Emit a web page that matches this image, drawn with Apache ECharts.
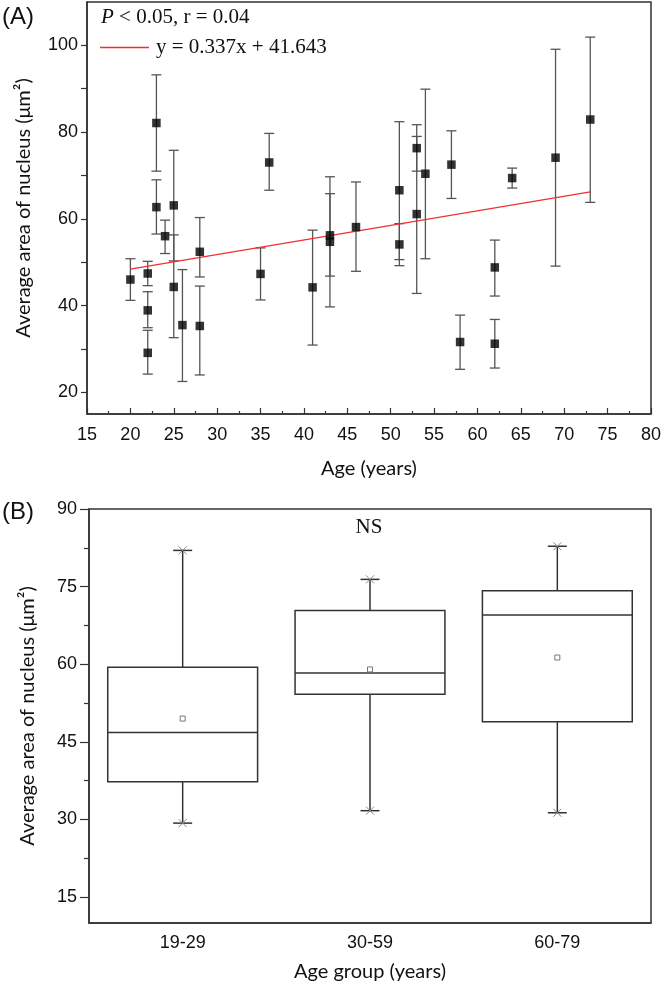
<!DOCTYPE html>
<html>
<head>
<meta charset="utf-8">
<script src="https://cdn.jsdelivr.net/npm/echarts@6/dist/echarts.min.js"></script>
<style>
html,body{margin:0;padding:0;background:#fff;}
#chart{width:664px;height:991px;}
</style>
</head>
<body>
<div id="chart"></div>
<script>
// ---- Panel A data (age vs. mean nuclear area, with error bars) ----
var ages   = [20,22,22,22,23,23,24,25,25,26,28,28,35,36,41,43,43,46,51,51,53,53,54,57,58,62,62,64,69,73];
var means  = [46.0,47.4,38.9,29.1,82.1,62.7,56.0,63.1,44.3,35.5,52.4,35.3,47.3,73.0,44.2,56.2,54.7,58.1,66.6,54.1,76.3,61.1,70.4,72.5,31.6,48.8,31.2,69.4,74.1,82.9];
var lowers = [41.2,44.6,34.9,24.2,71.0,56.5,52.0,50.3,32.6,22.5,46.6,24.0,41.3,66.6,30.9,46.8,39.7,47.9,50.6,49.2,71.0,42.8,50.8,64.7,25.3,42.2,25.6,67.1,49.1,63.8];
var uppers = [50.8,50.2,43.2,34.3,93.2,69.0,59.7,75.8,56.3,48.3,60.3,44.5,53.3,79.7,57.4,65.8,69.7,68.5,82.4,58.9,81.7,79.0,89.9,80.3,37.8,55.1,36.8,71.7,99.1,101.9];
var fitX   = [20, 73];
var fitY   = [48.4, 66.2];
var fitLabel = 'y = 0.337x + 41.643';
var yLabelsA = [20,40,60,80,100];
var yTicksA = [20,30,40,50,60,70,80,90,100];

// ---- Panel B data (box plots by age group) ----
var groups   = ['19-29','30-59','60-79'];
var boxMin   = [29.3,31.7,31.3];
var boxQ1    = [37.3,54.2,48.9];
var boxMed   = [46.8,58.3,69.5];
var boxQ3    = [59.4,70.4,74.2];
var boxMax   = [82.0,76.4,82.8];
var boxMean  = [49.5,59.0,61.3];
var yLabelsB = [15,30,45,60,75,90];
var yMinorB  = [22.5,37.5,52.5,67.5,82.5];

var chart = echarts.init(document.getElementById('chart'), null, {renderer:'canvas'});

var scatterData = ages.map(function(a,i){return [a, means[i]];});
var errData = ages.map(function(a,i){return [a, lowers[i], uppers[i]];});
var fitData = fitX.map(function(x,i){return [x, fitY[i]];});
var boxData = groups.map(function(g,i){return [i, boxMin[i], boxQ1[i], boxMed[i], boxQ3[i], boxMax[i], boxMean[i]];});

var tickFont = {fontFamily:'Liberation Sans', fontSize:18, color:'#111'};
var nameFont = {fontFamily:'Lato', fontSize:20, color:'#111'};
var lineCol = '#333';

var option = {
  animation:false,
  backgroundColor:'#fff',
  grid:[
    {left:87, right:11, top:2, bottom:577, show:true, borderColor:lineCol, borderWidth:1.5},
    {left:89, right:13, top:509, bottom:68, show:true, borderColor:lineCol, borderWidth:1.5}
  ],
  legend:{
    data:[{name:fitLabel, icon:'rect'}], left:100, top:37, padding:0, itemWidth:49, itemHeight:1.5,
    itemStyle:{color:'#f03030'},
    textStyle:{fontFamily:'Liberation Serif', fontSize:21, color:'#111', padding:[0,0,0,2]}
  },
  xAxis:[
    {type:'value', gridIndex:0, min:15, max:80, interval:5,
     axisLine:{lineStyle:{color:lineCol, width:1.5}},
     axisTick:{inside:true, length:6, lineStyle:{color:lineCol, width:1.2}},
     minorTick:{show:true, splitNumber:2, length:3, lineStyle:{color:lineCol, width:1.2}},
     splitLine:{show:false},
     axisLabel:Object.assign({margin:12}, tickFont),
     name:'Age (years)', nameLocation:'middle', nameGap:45, nameTextStyle:nameFont},
    {type:'category', gridIndex:1, data:groups,
     axisLine:{lineStyle:{color:lineCol, width:1.5}},
     axisTick:{show:false}, splitLine:{show:false},
     axisLabel:Object.assign({margin:11}, tickFont),
     name:'Age group (years)', nameLocation:'middle', nameGap:39, nameTextStyle:nameFont}
  ],
  yAxis:[
    {type:'value', gridIndex:0, min:15, max:110,
     axisLine:{show:true, lineStyle:{color:lineCol, width:1.5}},
     axisTick:{show:true, length:6, customValues:yTicksA, lineStyle:{color:lineCol, width:1.2}},
     splitLine:{show:false},
     axisLabel:Object.assign({margin:9, customValues:yLabelsA}, tickFont),
     name:'Average area of nucleus (μm²)', nameLocation:'middle', nameGap:53, nameTextStyle:nameFont},
    {type:'value', gridIndex:1, min:10, max:90,
     axisLine:{show:true, lineStyle:{color:lineCol, width:1.5}},
     axisTick:{show:true, length:9, customValues:yLabelsB, lineStyle:{color:lineCol, width:1.2}},
     splitLine:{show:false},
     axisLabel:Object.assign({margin:12, customValues:yLabelsB}, tickFont),
     name:'Average area of nucleus (μm²)', nameLocation:'middle', nameGap:51, nameTextStyle:nameFont},
    {type:'value', gridIndex:1, min:10, max:90, position:'left',
     axisLine:{show:false},
     axisTick:{show:true, length:5, customValues:yMinorB, lineStyle:{color:lineCol, width:1.2}},
     splitLine:{show:false},
     axisLabel:{show:false}}
  ],
  graphic:[
    {type:'text', left:2, top:5, style:{text:'(A)', fontFamily:'Liberation Sans', fontSize:24, fill:'#111'}},
    {type:'text', left:2, top:500, style:{text:'(B)', fontFamily:'Liberation Sans', fontSize:24, fill:'#111'}},
    {type:'text', left:101, top:7, style:{
      text:'{i|P} < 0.05, r = 0.04',
      fontFamily:'Liberation Serif', fontSize:21, fill:'#111',
      rich:{i:{fontFamily:'Liberation Serif', fontStyle:'italic', fontSize:21, fill:'#111'}}
    }},
    {type:'text', x:369, y:527, style:{text:'NS', fontFamily:'Liberation Serif', fontSize:21, fill:'#111', align:'center', verticalAlign:'middle'}}
  ],
  series:[
    {type:'custom', name:'err', xAxisIndex:0, yAxisIndex:0, data:errData, z:2,
     renderItem:function(params, api){
       var lo = api.coord([api.value(0), api.value(1)]);
       var hi = api.coord([api.value(0), api.value(2)]);
       var hw = 5;
       var st = {stroke:'#555', lineWidth:1.3};
       return {type:'group', children:[
         {type:'line', shape:{x1:lo[0], y1:lo[1], x2:hi[0], y2:hi[1]}, style:st},
         {type:'line', shape:{x1:lo[0]-hw, y1:lo[1], x2:lo[0]+hw, y2:lo[1]}, style:st},
         {type:'line', shape:{x1:hi[0]-hw, y1:hi[1], x2:hi[0]+hw, y2:hi[1]}, style:st}
       ]};
     }},
    {type:'scatter', name:'mean', xAxisIndex:0, yAxisIndex:0, data:scatterData,
     symbol:'rect', symbolSize:8.5, itemStyle:{color:'#000'}, z:4},
    {type:'line', name:fitLabel, xAxisIndex:0, yAxisIndex:0, data:fitData,
     symbol:'none', lineStyle:{color:'#f03030', width:1.2}, itemStyle:{color:'#f03030'}, z:3},
    {type:'custom', name:'box', xAxisIndex:1, yAxisIndex:1, data:boxData, z:2,
     renderItem:function(params, api){
       var i = api.value(0);
       var pMin = api.coord([i, api.value(1)]);
       var pQ1  = api.coord([i, api.value(2)]);
       var pMed = api.coord([i, api.value(3)]);
       var pQ3  = api.coord([i, api.value(4)]);
       var pMax = api.coord([i, api.value(5)]);
       var pMean= api.coord([i, api.value(6)]);
       var cx = pMed[0];
       var bw = api.size([1,0])[0]*0.8;
       var hb = bw/2, hc = 9.5, hx = 4;
       var st = {stroke:lineCol, lineWidth:1.5, fill:null};
       var xs = {stroke:'#888', lineWidth:1};
       return {type:'group', children:[
         {type:'line', shape:{x1:cx, y1:pQ3[1], x2:cx, y2:pMax[1]}, style:st},
         {type:'line', shape:{x1:cx, y1:pQ1[1], x2:cx, y2:pMin[1]}, style:st},
         {type:'line', shape:{x1:cx-hc, y1:pMax[1], x2:cx+hc, y2:pMax[1]}, style:st},
         {type:'line', shape:{x1:cx-hc, y1:pMin[1], x2:cx+hc, y2:pMin[1]}, style:st},
         {type:'rect', shape:{x:cx-hb, y:pQ3[1], width:bw, height:pQ1[1]-pQ3[1]}, style:{stroke:lineCol, lineWidth:1.5, fill:'#fff'}},
         {type:'line', shape:{x1:cx-hb, y1:pMed[1], x2:cx+hb, y2:pMed[1]}, style:st},
         {type:'line', shape:{x1:cx-hx, y1:pMax[1]-hx, x2:cx+hx, y2:pMax[1]+hx}, style:xs},
         {type:'line', shape:{x1:cx-hx, y1:pMax[1]+hx, x2:cx+hx, y2:pMax[1]-hx}, style:xs},
         {type:'line', shape:{x1:cx-hx, y1:pMin[1]-hx, x2:cx+hx, y2:pMin[1]+hx}, style:xs},
         {type:'line', shape:{x1:cx-hx, y1:pMin[1]+hx, x2:cx+hx, y2:pMin[1]-hx}, style:xs},
         {type:'rect', shape:{x:pMean[0]-2.5, y:pMean[1]-2.5, width:5, height:5}, style:{stroke:'#777', lineWidth:1, fill:'#fff'}}
       ]};
     }}
  ]
};
chart.setOption(option);
</script>
</body>
</html>
